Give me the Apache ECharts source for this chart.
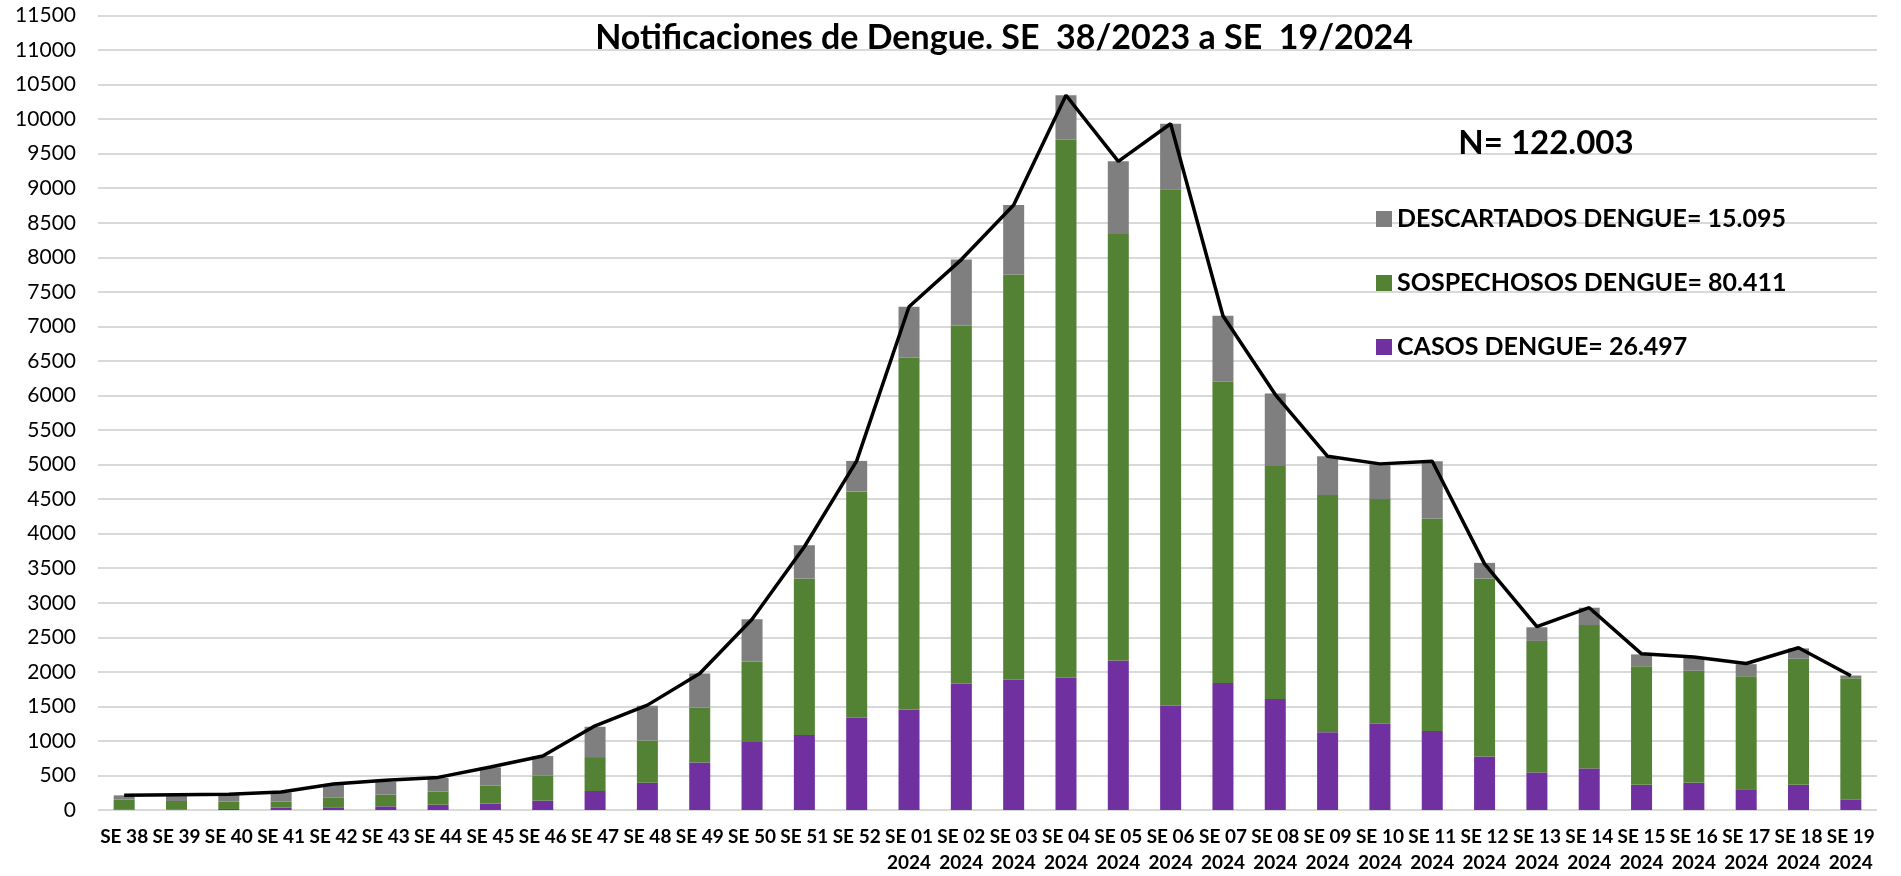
<!DOCTYPE html>
<html>
<head>
<meta charset="utf-8">
<script src="https://cdn.jsdelivr.net/npm/echarts@6/dist/echarts.min.js"></script>
<style>
html,body{margin:0;padding:0;background:#fff;}
#chart{width:1901px;height:876px;}
</style>
</head>
<body>
<div id="chart"></div>
<script>
var categories = ["SE 38","SE 39","SE 40","SE 41","SE 42","SE 43","SE 44","SE 45","SE 46","SE 47","SE 48","SE 49","SE 50","SE 51","SE 52",
  "SE 01\n2024","SE 02\n2024","SE 03\n2024","SE 04\n2024","SE 05\n2024","SE 06\n2024","SE 07\n2024","SE 08\n2024","SE 09\n2024","SE 10\n2024",
  "SE 11\n2024","SE 12\n2024","SE 13\n2024","SE 14\n2024","SE 15\n2024","SE 16\n2024","SE 17\n2024","SE 18\n2024","SE 19\n2024"];

var casos = [8,6,15,34,39,53,77,92,135,275,395,689,985,1087,1335,
  1456,1826,1884,1913,2165,1510,1840,1607,1126,1247,1145,776,544,602,364,393,301,364,150];

var sospechosos = [141,124,105,86,144,169,188,260,361,491,612,792,1165,2264,3276,
  5089,5188,5866,7789,6171,7476,4357,3374,3432,3253,3076,2575,1903,2074,1718,1622,1636,1825,1758];

var descartados = [63,72,97,135,183,188,198,265,285,439,502,495,610,481,442,
  739,953,1006,644,1053,947,957,1048,562,505,827,226,198,252,170,193,174,150,39];

var totales = [215,222,227,260,376,429,472,622,781,1219,1518,1976,2760,3810,5053,
  7284,7967,8756,10346,9389,9933,7154,6014,5120,5010,5048,3562,2654,2928,2260,2213,2121,2349,1942];

var yTicks = {min: 0, max: 11500, interval: 500};

var titleText = "Notificaciones de Dengue. SE  38/2023 a SE  19/2024";
var totalText = "N= 122.003";
var nameDescartados = "DESCARTADOS DENGUE= 15.095";
var nameSospechosos = "SOSPECHOSOS DENGUE= 80.411";
var nameCasos = "CASOS DENGUE= 26.497";

var FONT = "Lato";

var chart = echarts.init(document.getElementById('chart'), null, {renderer: 'canvas'});
chart.setOption({
  animation: false,
  backgroundColor: '#ffffff',
  grid: {left: 98, right: 24, top: 15.5, bottom: 64, containLabel: false},
  graphic: [
    {type: 'text', x: 1004, y: 18, z: 100, silent: true,
      style: {text: titleText, fontFamily: FONT, fontWeight: 'bold', fontSize: 34, lineHeight: 40, fill: '#000', align: 'center', verticalAlign: 'top'}},
    {type: 'text', x: 1546, y: 123, z: 100, silent: true,
      style: {text: totalText, fontFamily: FONT, fontWeight: 'bold', fontSize: 33, lineHeight: 40, fill: '#000', align: 'center', verticalAlign: 'top'}}
  ],
  legend: {
    orient: 'vertical',
    left: 1371,
    top: 201,
    itemWidth: 16,
    itemHeight: 16,
    itemGap: 38,
    icon: 'rect',
    data: [nameDescartados, nameSospechosos, nameCasos],
    textStyle: {fontFamily: FONT, fontWeight: 'bold', fontSize: 25, lineHeight: 26, color: '#000'}
  },
  xAxis: {
    type: 'category',
    data: categories,
    axisLine: {show: false},
    axisTick: {show: false},
    axisLabel: {interval: 0, margin: 14, fontFamily: FONT, fontWeight: 'bold', fontSize: 19, lineHeight: 26, color: '#000'}
  },
  yAxis: {
    type: 'value',
    min: yTicks.min, max: yTicks.max, interval: yTicks.interval,
    axisLine: {show: false},
    axisTick: {show: false},
    axisLabel: {margin: 22, fontFamily: FONT, fontSize: 21, color: '#000', formatter: function (v) { return String(v); }},
    splitLine: {lineStyle: {color: '#d9d9d9', width: 2}}
  },
  series: [
    {name: nameCasos, type: 'bar', stack: 'n', data: casos, barWidth: 21, itemStyle: {color: '#7030A0'}},
    {name: nameSospechosos, type: 'bar', stack: 'n', data: sospechosos, barWidth: 21, itemStyle: {color: '#548235'}},
    {name: nameDescartados, type: 'bar', stack: 'n', data: descartados, barWidth: 21, itemStyle: {color: '#7f7f7f'}},
    {name: 'Total', type: 'line', data: totales, symbol: 'none', z: 5, lineStyle: {color: '#000', width: 3.5}}
  ]
});
</script>
</body>
</html>
